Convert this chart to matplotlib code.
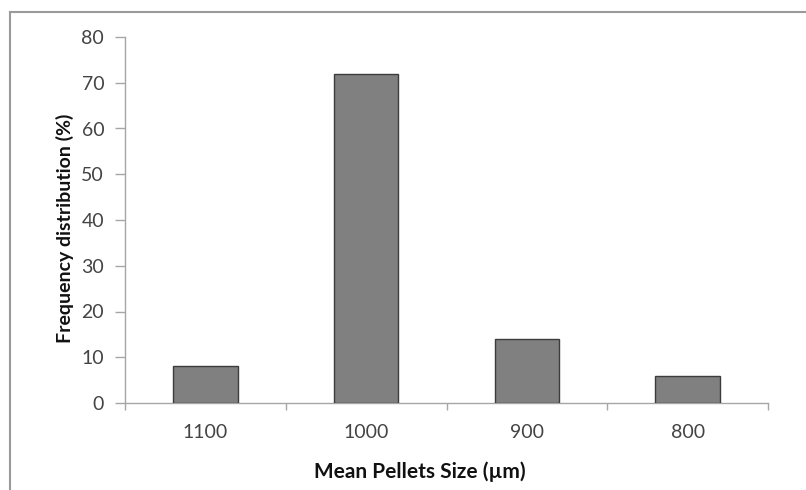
import matplotlib
matplotlib.use("Agg")
import matplotlib.pyplot as plt
from matplotlib.lines import Line2D
import numpy as np

categories = ["1100", "1000", "900", "800"]
values = [8, 72, 14, 6]
yticks = [0, 10, 20, 30, 40, 50, 60, 70, 80]

plt.rcParams['font.family'] = ['Lato', 'DejaVu Sans']

fig = plt.figure(figsize=(8.06, 4.90), dpi=100)
ax = fig.add_axes([125/806, 1-403/490, (768-125)/806, (403-37)/490])

x = np.arange(len(categories))
ax.bar(x, values, width=0.4, color="#808080", edgecolor="#3c3c3c", linewidth=1.0, zorder=3)

ax.set_xlim(-0.5, len(categories) - 0.5)
ax.set_ylim(0, 80)
ax.set_yticks(yticks)
ax.set_yticklabels([str(v) for v in yticks], fontsize=14, color="#444444")
ax.set_xticks(x)
ax.set_xticklabels(categories, fontsize=14, color="#444444")
ax.tick_params(axis='x', length=0, pad=15)
ax.tick_params(axis='y', length=7, width=1, color="#a6a6a6", pad=8)

# category boundary ticks on x axis
ax.set_xticks(np.arange(-0.5, len(categories)), minor=True)
ax.tick_params(axis='x', which='minor', length=5, width=1, color="#a6a6a6")

for s in ['top', 'right']:
    ax.spines[s].set_visible(False)
for s in ['left', 'bottom']:
    ax.spines[s].set_color("#a6a6a6")
    ax.spines[s].set_linewidth(1.0)

fig.text(65/806, 1-228/490, "Frequency distribution (%)", rotation=90, ha='center', va='center',
         fontsize=14, fontweight='bold', color="#111111")
fig.text(420/806, 1-472/490, "Mean Pellets Size (µm)", ha='center', va='center',
         fontsize=15, fontweight='bold', color="#111111")

# figure frame lines (top and left)
fig.add_artist(Line2D([10/806, 1], [1-12/490, 1-12/490], transform=fig.transFigure, color="#9a9a9a", lw=1.5))
fig.add_artist(Line2D([10/806, 10/806], [0, 1-12/490], transform=fig.transFigure, color="#9a9a9a", lw=1.5))

fig.savefig("out.png", dpi=100)
